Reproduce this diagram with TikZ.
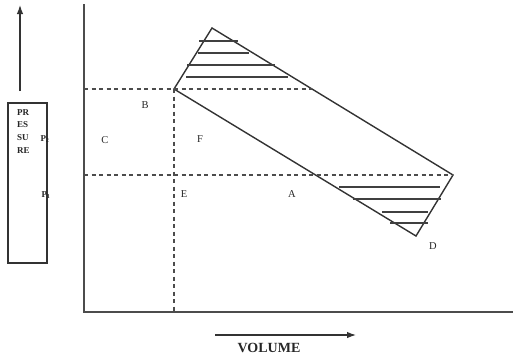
\documentclass[tikz,border=0pt]{standalone}
\usepackage{fontspec}
\setmainfont{Liberation Serif}
\usetikzlibrary{arrows.meta}
\begin{document}
\begin{tikzpicture}[x=1pt,y=-1pt,
  axis/.style={line width=1.6pt, draw=black!70},
  edge/.style={line width=1.4pt, draw=black!80},
  dashline/.style={dash pattern=on 4pt off 3.5pt, line width=1.3pt, draw=black!70},
  hatch/.style={line width=1.4pt, draw=black!75},
  lab/.style={font=\fontsize{10.5}{11}\selectfont, inner sep=0pt, text=black!85},
  arr/.style={line width=1.2pt, draw=black!80, -{Latex[length=9pt,width=6.5pt]}}]
\useasboundingbox (0,0) rectangle (513,360);
% axes
\coordinate (ytop) at (84,4);
\coordinate (orig) at (84,312);
\coordinate (xend) at (513,312);
\draw[axis] (ytop) -- (orig) -- (xend);
% quadrilateral
\coordinate (T) at (212,28);
\coordinate (L) at (174,89);
\coordinate (R) at (453,175);
\coordinate (Bt) at (416,236);
\draw[edge] (L) -- (T) -- (R) -- (Bt) -- cycle;
% dashed lines
\coordinate (u0) at (84,89);
\coordinate (u1) at (312,89);
\coordinate (l0) at (84,175);
\coordinate (v1) at (174,312);
\draw[dashline] (u0) -- (u1);
\draw[dashline] (l0) -- (R);
\draw[dashline] (L) -- (v1);
% hatching top
\draw[hatch] (199,41) -- (238,41);
\draw[hatch] (198,53) -- (249,53);
\draw[hatch] (187,65) -- (275,65);
\draw[hatch] (186,77) -- (288,77);
% hatching bottom
\draw[hatch] (339,187) -- (440,187);
\draw[hatch] (353,199) -- (441,199);
\draw[hatch] (382,212) -- (428,212);
\draw[hatch] (390,223) -- (428,223);
% pressure box
\node[draw=black!80, line width=1.3pt, minimum width=39pt, minimum height=160pt, inner sep=0pt] (pbox) at (27.5,183) {};
\coordinate (pa0) at (20,91);
\coordinate (pa1) at (20,5);
\draw[arr] (pa0) -- (pa1);
\node[lab, font=\fontsize{9}{12.7}\selectfont\bfseries, align=left, anchor=north west] (ptxt) at (17,109) {PR\\ES\\SU\\RE};
\node[lab, font=\fontsize{9}{10}\selectfont\bfseries] (p2) at (45,139) {P\textsubscript{2}};
\node[lab, font=\fontsize{9}{10}\selectfont\bfseries] (p1) at (46,195) {P\textsubscript{1}};
% labels
\node[lab] (B) at (145,105) {B};
\node[lab] (C) at (105,140) {C};
\node[lab] (F) at (200,139) {F};
\node[lab] (E) at (184,194) {E};
\node[lab] (A) at (292,194) {A};
\node[lab] (D) at (433,246) {D};
% volume
\coordinate (va0) at (215,335);
\coordinate (va1) at (356,335);
\draw[arr] (va0) -- (va1);
\node[lab, font=\fontsize{14}{15}\selectfont\bfseries] (vol) at (269,348) {VOLUME};
\end{tikzpicture}
\end{document}
